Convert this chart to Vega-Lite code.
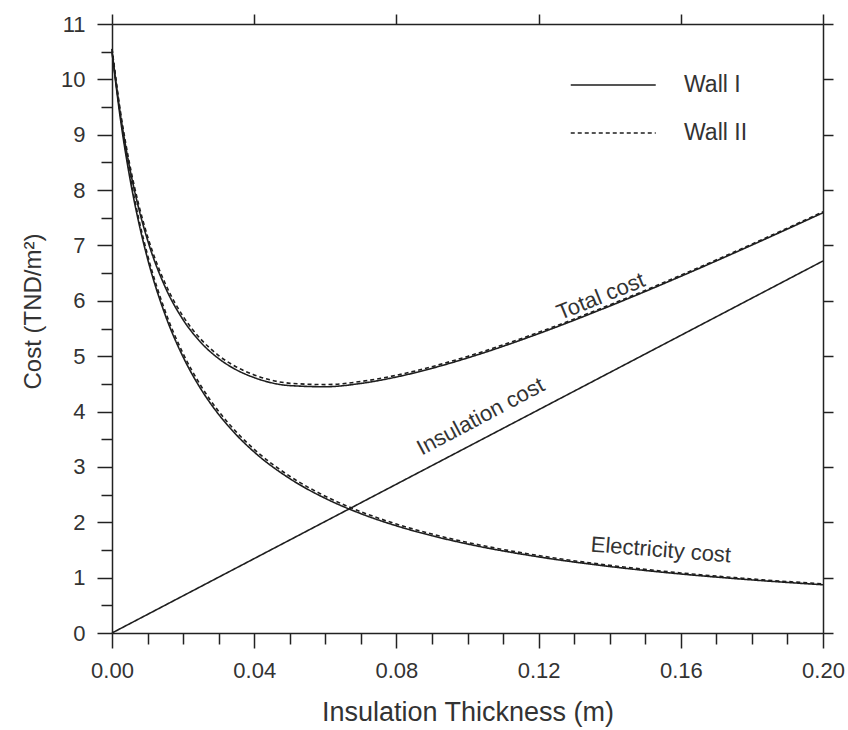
{
  "$schema": "https://vega.github.io/schema/vega-lite/v6.json",
  "width": 711,
  "height": 609,
  "autosize": {"type": "none"},
  "padding": {"left": 112, "top": 24, "right": 25, "bottom": 97},
  "background": "white",
  "config": {
    "view": {"stroke": null},
    "font": "Liberation Sans",
    "axis": {
      "grid": false,
      "domainColor": "#222",
      "domainWidth": 1.5,
      "tickColor": "#222",
      "tickWidth": 1.5,
      "labelColor": "#333",
      "labelFont": "Liberation Sans",
      "labelFontSize": 22,
      "titleFont": "Liberation Sans",
      "titleFontWeight": "normal",
      "titleColor": "#333"
    }
  },
  "datasets": {
    "curves": [
      {"x": 0, "cost": 10.5, "curve": "Electricity cost", "wall": "Wall I"},
      {"x": 0.0025, "cost": 9.225, "curve": "Electricity cost", "wall": "Wall I"},
      {"x": 0.005, "cost": 8.226, "curve": "Electricity cost", "wall": "Wall I"},
      {"x": 0.0075, "cost": 7.422, "curve": "Electricity cost", "wall": "Wall I"},
      {"x": 0.01, "cost": 6.761, "curve": "Electricity cost", "wall": "Wall I"},
      {"x": 0.015, "cost": 5.739, "curve": "Electricity cost", "wall": "Wall I"},
      {"x": 0.02, "cost": 4.986, "curve": "Electricity cost", "wall": "Wall I"},
      {"x": 0.025, "cost": 4.407, "curve": "Electricity cost", "wall": "Wall I"},
      {"x": 0.03, "cost": 3.949, "curve": "Electricity cost", "wall": "Wall I"},
      {"x": 0.035, "cost": 3.577, "curve": "Electricity cost", "wall": "Wall I"},
      {"x": 0.04, "cost": 3.269, "curve": "Electricity cost", "wall": "Wall I"},
      {"x": 0.05, "cost": 2.789, "curve": "Electricity cost", "wall": "Wall I"},
      {"x": 0.06, "cost": 2.432, "curve": "Electricity cost", "wall": "Wall I"},
      {"x": 0.07, "cost": 2.156, "curve": "Electricity cost", "wall": "Wall I"},
      {"x": 0.08, "cost": 1.936, "curve": "Electricity cost", "wall": "Wall I"},
      {"x": 0.09, "cost": 1.757, "curve": "Electricity cost", "wall": "Wall I"},
      {"x": 0.1, "cost": 1.608, "curve": "Electricity cost", "wall": "Wall I"},
      {"x": 0.12, "cost": 1.375, "curve": "Electricity cost", "wall": "Wall I"},
      {"x": 0.14, "cost": 1.201, "curve": "Electricity cost", "wall": "Wall I"},
      {"x": 0.16, "cost": 1.066, "curve": "Electricity cost", "wall": "Wall I"},
      {"x": 0.18, "cost": 0.959, "curve": "Electricity cost", "wall": "Wall I"},
      {"x": 0.2, "cost": 0.871, "curve": "Electricity cost", "wall": "Wall I"},

      {"x": 0, "cost": 10.55, "curve": "Electricity cost", "wall": "Wall II"},
      {"x": 0.0025, "cost": 9.285, "curve": "Electricity cost", "wall": "Wall II"},
      {"x": 0.005, "cost": 8.291, "curve": "Electricity cost", "wall": "Wall II"},
      {"x": 0.0075, "cost": 7.489, "curve": "Electricity cost", "wall": "Wall II"},
      {"x": 0.01, "cost": 6.828, "curve": "Electricity cost", "wall": "Wall II"},
      {"x": 0.015, "cost": 5.805, "curve": "Electricity cost", "wall": "Wall II"},
      {"x": 0.02, "cost": 5.048, "curve": "Electricity cost", "wall": "Wall II"},
      {"x": 0.025, "cost": 4.466, "curve": "Electricity cost", "wall": "Wall II"},
      {"x": 0.03, "cost": 4.004, "curve": "Electricity cost", "wall": "Wall II"},
      {"x": 0.035, "cost": 3.629, "curve": "Electricity cost", "wall": "Wall II"},
      {"x": 0.04, "cost": 3.318, "curve": "Electricity cost", "wall": "Wall II"},
      {"x": 0.05, "cost": 2.832, "curve": "Electricity cost", "wall": "Wall II"},
      {"x": 0.06, "cost": 2.471, "curve": "Electricity cost", "wall": "Wall II"},
      {"x": 0.07, "cost": 2.191, "curve": "Electricity cost", "wall": "Wall II"},
      {"x": 0.08, "cost": 1.968, "curve": "Electricity cost", "wall": "Wall II"},
      {"x": 0.09, "cost": 1.787, "curve": "Electricity cost", "wall": "Wall II"},
      {"x": 0.1, "cost": 1.636, "curve": "Electricity cost", "wall": "Wall II"},
      {"x": 0.12, "cost": 1.399, "curve": "Electricity cost", "wall": "Wall II"},
      {"x": 0.14, "cost": 1.222, "curve": "Electricity cost", "wall": "Wall II"},
      {"x": 0.16, "cost": 1.085, "curve": "Electricity cost", "wall": "Wall II"},
      {"x": 0.18, "cost": 0.976, "curve": "Electricity cost", "wall": "Wall II"},
      {"x": 0.2, "cost": 0.887, "curve": "Electricity cost", "wall": "Wall II"},

      {"x": 0, "cost": 10.5, "curve": "Total cost", "wall": "Wall I"},
      {"x": 0.0025, "cost": 9.309, "curve": "Total cost", "wall": "Wall I"},
      {"x": 0.005, "cost": 8.394, "curve": "Total cost", "wall": "Wall I"},
      {"x": 0.0075, "cost": 7.674, "curve": "Total cost", "wall": "Wall I"},
      {"x": 0.01, "cost": 7.097, "curve": "Total cost", "wall": "Wall I"},
      {"x": 0.015, "cost": 6.243, "curve": "Total cost", "wall": "Wall I"},
      {"x": 0.02, "cost": 5.658, "curve": "Total cost", "wall": "Wall I"},
      {"x": 0.025, "cost": 5.247, "curve": "Total cost", "wall": "Wall I"},
      {"x": 0.03, "cost": 4.957, "curve": "Total cost", "wall": "Wall I"},
      {"x": 0.035, "cost": 4.753, "curve": "Total cost", "wall": "Wall I"},
      {"x": 0.04, "cost": 4.613, "curve": "Total cost", "wall": "Wall I"},
      {"x": 0.05, "cost": 4.469, "curve": "Total cost", "wall": "Wall I"},
      {"x": 0.06, "cost": 4.448, "curve": "Total cost", "wall": "Wall I"},
      {"x": 0.07, "cost": 4.508, "curve": "Total cost", "wall": "Wall I"},
      {"x": 0.08, "cost": 4.624, "curve": "Total cost", "wall": "Wall I"},
      {"x": 0.09, "cost": 4.781, "curve": "Total cost", "wall": "Wall I"},
      {"x": 0.1, "cost": 4.968, "curve": "Total cost", "wall": "Wall I"},
      {"x": 0.12, "cost": 5.407, "curve": "Total cost", "wall": "Wall I"},
      {"x": 0.14, "cost": 5.905, "curve": "Total cost", "wall": "Wall I"},
      {"x": 0.16, "cost": 6.442, "curve": "Total cost", "wall": "Wall I"},
      {"x": 0.18, "cost": 7.007, "curve": "Total cost", "wall": "Wall I"},
      {"x": 0.2, "cost": 7.591, "curve": "Total cost", "wall": "Wall I"},

      {"x": 0, "cost": 10.55, "curve": "Total cost", "wall": "Wall II"},
      {"x": 0.0025, "cost": 9.369, "curve": "Total cost", "wall": "Wall II"},
      {"x": 0.005, "cost": 8.459, "curve": "Total cost", "wall": "Wall II"},
      {"x": 0.0075, "cost": 7.741, "curve": "Total cost", "wall": "Wall II"},
      {"x": 0.01, "cost": 7.164, "curve": "Total cost", "wall": "Wall II"},
      {"x": 0.015, "cost": 6.309, "curve": "Total cost", "wall": "Wall II"},
      {"x": 0.02, "cost": 5.72, "curve": "Total cost", "wall": "Wall II"},
      {"x": 0.025, "cost": 5.306, "curve": "Total cost", "wall": "Wall II"},
      {"x": 0.03, "cost": 5.012, "curve": "Total cost", "wall": "Wall II"},
      {"x": 0.035, "cost": 4.805, "curve": "Total cost", "wall": "Wall II"},
      {"x": 0.04, "cost": 4.662, "curve": "Total cost", "wall": "Wall II"},
      {"x": 0.05, "cost": 4.512, "curve": "Total cost", "wall": "Wall II"},
      {"x": 0.06, "cost": 4.487, "curve": "Total cost", "wall": "Wall II"},
      {"x": 0.07, "cost": 4.543, "curve": "Total cost", "wall": "Wall II"},
      {"x": 0.08, "cost": 4.656, "curve": "Total cost", "wall": "Wall II"},
      {"x": 0.09, "cost": 4.811, "curve": "Total cost", "wall": "Wall II"},
      {"x": 0.1, "cost": 4.996, "curve": "Total cost", "wall": "Wall II"},
      {"x": 0.12, "cost": 5.431, "curve": "Total cost", "wall": "Wall II"},
      {"x": 0.14, "cost": 5.926, "curve": "Total cost", "wall": "Wall II"},
      {"x": 0.16, "cost": 6.461, "curve": "Total cost", "wall": "Wall II"},
      {"x": 0.18, "cost": 7.024, "curve": "Total cost", "wall": "Wall II"},
      {"x": 0.2, "cost": 7.607, "curve": "Total cost", "wall": "Wall II"},

      {"x": 0, "cost": 0, "curve": "Insulation cost", "wall": "Wall I"},
      {"x": 0.05, "cost": 1.68, "curve": "Insulation cost", "wall": "Wall I"},
      {"x": 0.1, "cost": 3.36, "curve": "Insulation cost", "wall": "Wall I"},
      {"x": 0.15, "cost": 5.04, "curve": "Insulation cost", "wall": "Wall I"},
      {"x": 0.2, "cost": 6.72, "curve": "Insulation cost", "wall": "Wall I"}
    ],
    "notes": [
      {"x": 0.1375, "cost": 6.08, "text": "Total cost"},
      {"x": 0.1037, "cost": 3.91, "text": "Insulation cost"},
      {"x": 0.1544, "cost": 1.5, "text": "Electricity cost"}
    ]
  },
  "resolve": {"axis": {"x": "independent", "y": "independent"}},
  "layer": [
    {
      "data": {"name": "curves"},
      "mark": {"type": "line", "interpolate": "monotone", "strokeWidth": 1.6, "color": "#1e1e1e"},
      "encoding": {
        "x": {
          "field": "x", "type": "quantitative",
          "scale": {"domain": [0, 0.2], "nice": false, "zero": false},
          "axis": {
            "orient": "bottom",
            "title": "Insulation Thickness (m)",
            "titleFontSize": 27,
            "values": [0, 0.01, 0.02, 0.03, 0.04, 0.05, 0.06, 0.07, 0.08, 0.09, 0.1, 0.11, 0.12, 0.13, 0.14, 0.15, 0.16, 0.17, 0.18, 0.19, 0.2],
            "labelExpr": "round(datum.value * 100) % 4 === 0 ? format(datum.value, '.2f') : ''",
            "tickSize": {"condition": {"test": "round(datum.value * 100) % 4 === 0", "value": 15}, "value": 11},
            "labelPadding": 12,
            "labelFlush": false,
            "labelOverlap": false,
            "titlePadding": 18
          }
        },
        "y": {
          "field": "cost", "type": "quantitative",
          "scale": {"domain": [0, 11], "nice": false},
          "axis": {
            "orient": "left",
            "title": "Cost (TND/m²)",
            "titleFontSize": 24,
            "titleY": 287,
            "values": [0, 0.5, 1, 1.5, 2, 2.5, 3, 3.5, 4, 4.5, 5, 5.5, 6, 6.5, 7, 7.5, 8, 8.5, 9, 9.5, 10, 10.5, 11],
            "labelExpr": "datum.value % 1 === 0 ? datum.value : ''",
            "tickSize": {"condition": {"test": "datum.value % 1 === 0", "value": 15}, "value": 11},
            "labelPadding": 12,
            "labelFlush": false,
            "labelOverlap": false,
            "titlePadding": 15
          }
        },
        "strokeDash": {
          "field": "wall", "type": "nominal",
          "scale": {"domain": ["Wall I", "Wall II"], "range": [[1, 0], [4, 3]]},
          "legend": {
            "orient": "none",
            "legendX": 458,
            "legendY": 39,
            "title": null,
            "padding": 0,
            "symbolType": "M-1,0H3",
            "symbolSize": 1806,
            "symbolStrokeWidth": 1.5,
            "symbolStrokeColor": "#1e1e1e",
            "labelFont": "Liberation Sans",
            "labelFontSize": 23,
            "labelColor": "#333",
            "labelOffset": 70,
            "rowPadding": 14
          }
        },
        "detail": {"field": "curve", "type": "nominal"}
      }
    },
    {
      "data": {"name": "notes"},
      "transform": [{"filter": "datum.text === 'Total cost'"}],
      "mark": {"type": "text", "angle": 338, "fontSize": 22, "font": "Liberation Sans", "color": "#333"},
      "encoding": {
        "x": {
          "field": "x", "type": "quantitative",
          "axis": {"orient": "top", "title": null, "labels": false, "values": [0, 0.04, 0.08, 0.12, 0.16, 0.2], "tickSize": 10}
        },
        "y": {
          "field": "cost", "type": "quantitative",
          "axis": {"orient": "right", "title": null, "labels": false, "values": [0, 1, 2, 3, 4, 5, 6, 7, 8, 9, 10, 11], "tickSize": 10}
        },
        "text": {"field": "text"}
      }
    },
    {
      "data": {"name": "notes"},
      "transform": [{"filter": "datum.text === 'Insulation cost'"}],
      "mark": {"type": "text", "angle": 332, "fontSize": 22, "font": "Liberation Sans", "color": "#333"},
      "encoding": {
        "x": {"field": "x", "type": "quantitative", "axis": null},
        "y": {"field": "cost", "type": "quantitative", "axis": null},
        "text": {"field": "text"}
      }
    },
    {
      "data": {"name": "notes"},
      "transform": [{"filter": "datum.text === 'Electricity cost'"}],
      "mark": {"type": "text", "angle": 4.5, "fontSize": 22, "font": "Liberation Sans", "color": "#333"},
      "encoding": {
        "x": {"field": "x", "type": "quantitative", "axis": null},
        "y": {"field": "cost", "type": "quantitative", "axis": null},
        "text": {"field": "text"}
      }
    }
  ]
}
